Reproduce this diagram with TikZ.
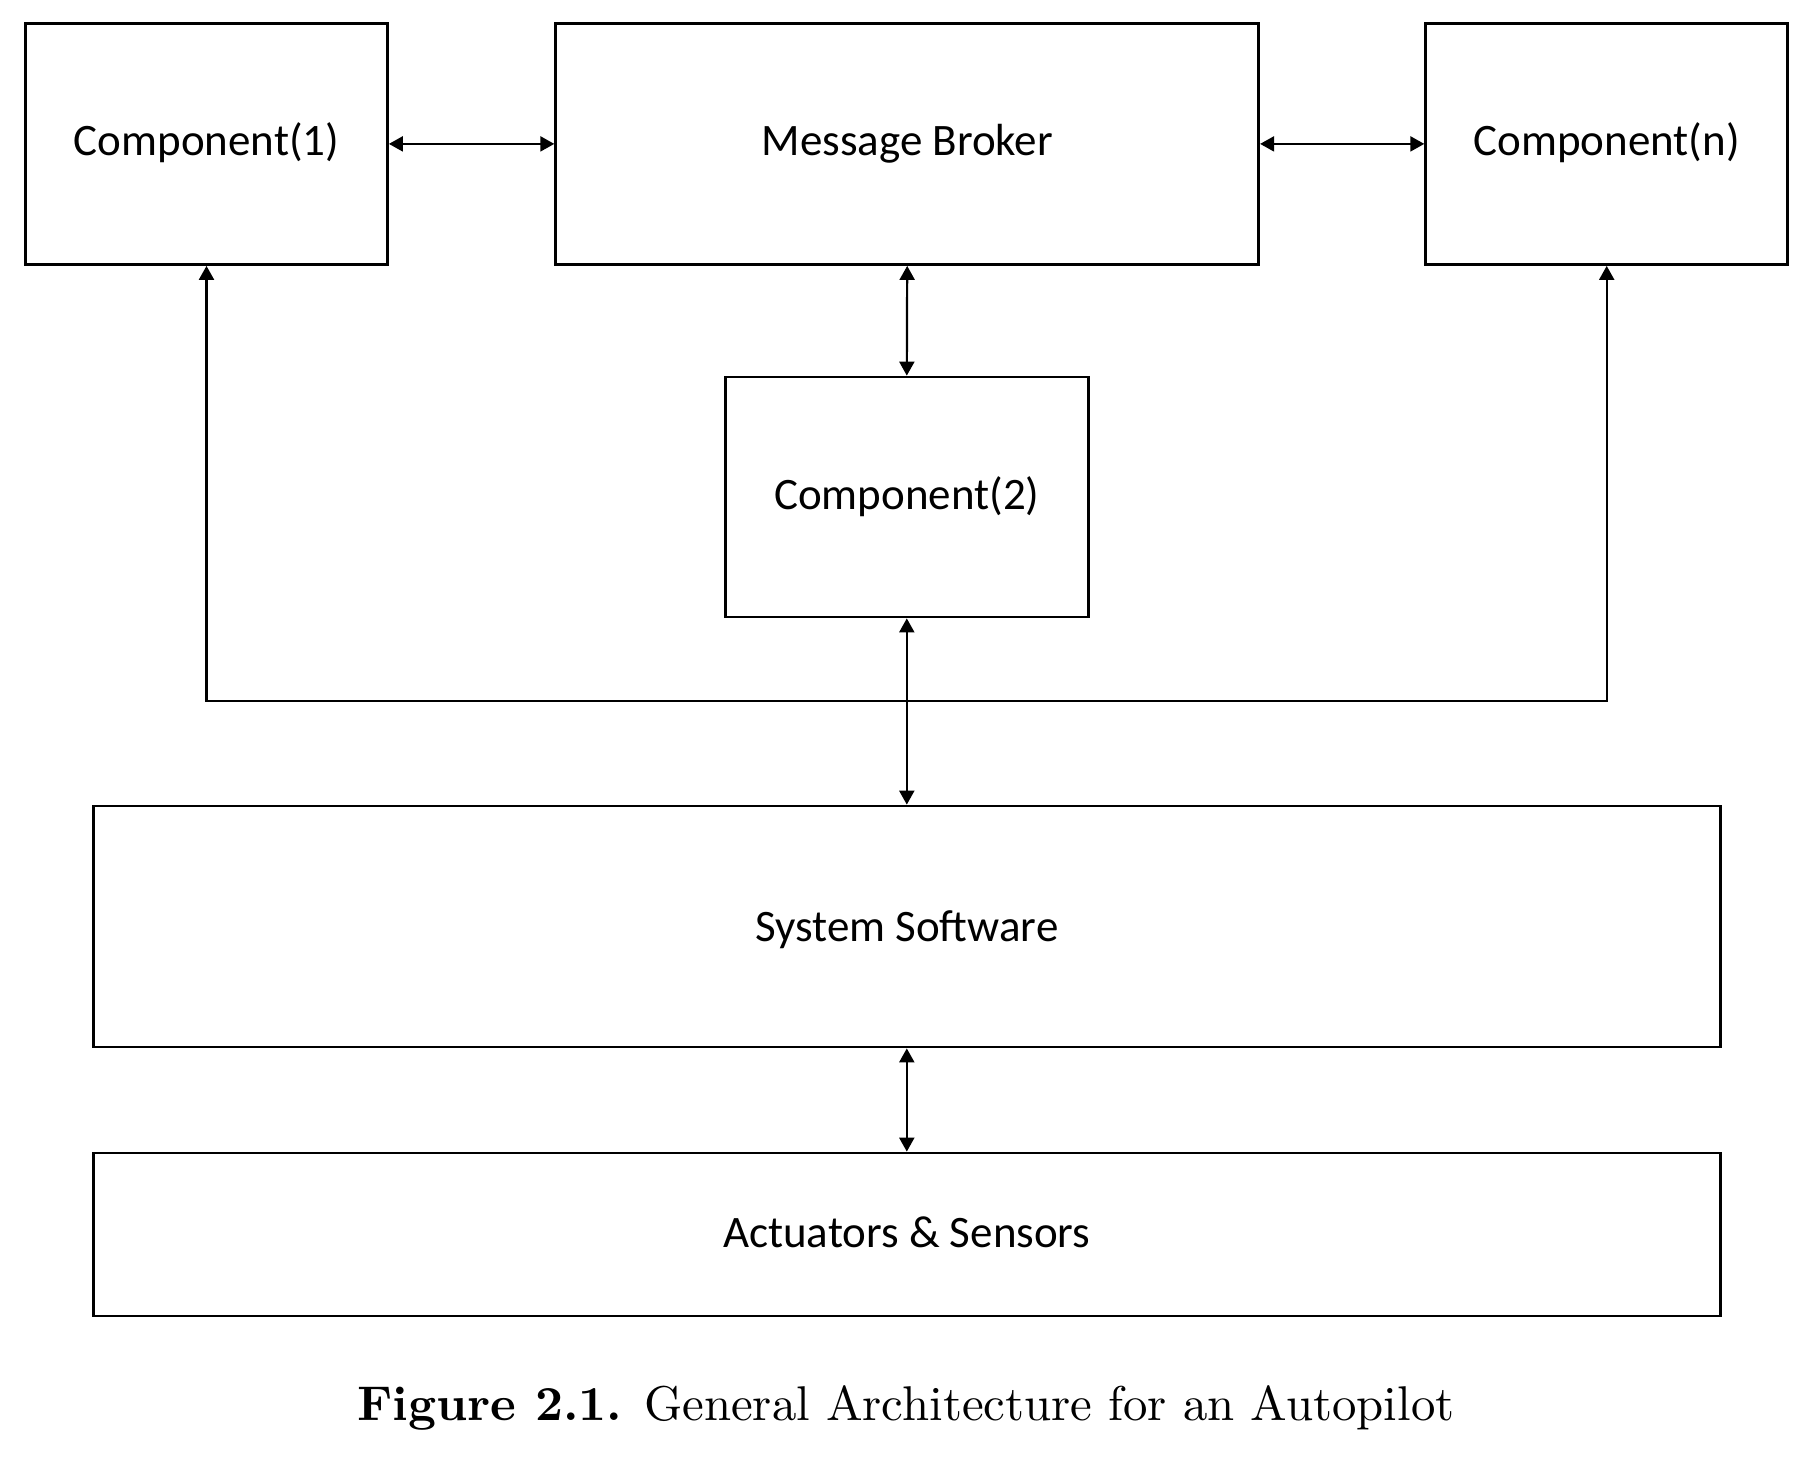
\documentclass[tikz,border=0pt]{standalone}
\usepackage{fontspec}
\newfontfamily\carlitofont{Carlito}
\newfontfamily\capfont{lmroman10-regular.otf}[BoldFont=lmroman10-bold.otf]
\usetikzlibrary{arrows.meta}
\tikzset{
  blk/.style={draw=black, line width=1.4pt, rectangle, inner sep=0pt, fill=white,
    text height=16pt, text depth=4pt,
    font=\carlitofont\fontsize{22.5}{27}\selectfont},
  conn/.style={line width=1.1pt, {Triangle[length=7pt,width=7.5pt]}-{Triangle[length=7pt,width=7.5pt]}}
}
\begin{document}
\begin{tikzpicture}[x=0.5pt,y=-0.5pt]
\useasboundingbox[fill=white] (0,0) rectangle (1819,1456);
\node[blk, minimum width=181pt, minimum height=120.6pt] (c1) at (206.5,143.9) {Component(1)};
\node[blk, minimum width=351.5pt, minimum height=120.6pt] (mb) at (907.2,143.9) {Message Broker};
\node[blk, minimum width=181pt, minimum height=120.6pt] (cn) at (1606.7,143.9) {Component(n)};
\node[blk, minimum width=181.5pt, minimum height=120pt] (c2) at (906.8,497) {Component(2)};
\node[blk, minimum width=813.5pt, minimum height=120.5pt, text height=18.5pt] (ss) at (906.8,926.5) {System Software};
\node[blk, minimum width=813.5pt, minimum height=81.5pt, text height=17pt] (as) at (906.8,1234.5) {Actuators \& Sensors};
\coordinate (bus) at (906.8,701);
\draw[conn] (c1.east) -- (mb.west);
\draw[conn] (mb.east) -- (cn.west);
\draw[conn] (mb.south) -- (c2.north);
\draw[conn] (c2.south) -- (ss.north);
\draw[conn] (ss.south) -- (as.north);
\draw[conn] (c1.south) |- (bus) -| (cn.south);
\node[anchor=base, inner sep=0pt, font=\capfont\fontsize{24.4}{29}\selectfont] (cap) at (906,1420)
  {\textbf{Figure 2.1.} General Architecture for an Autopilot};
\end{tikzpicture}
\end{document}
